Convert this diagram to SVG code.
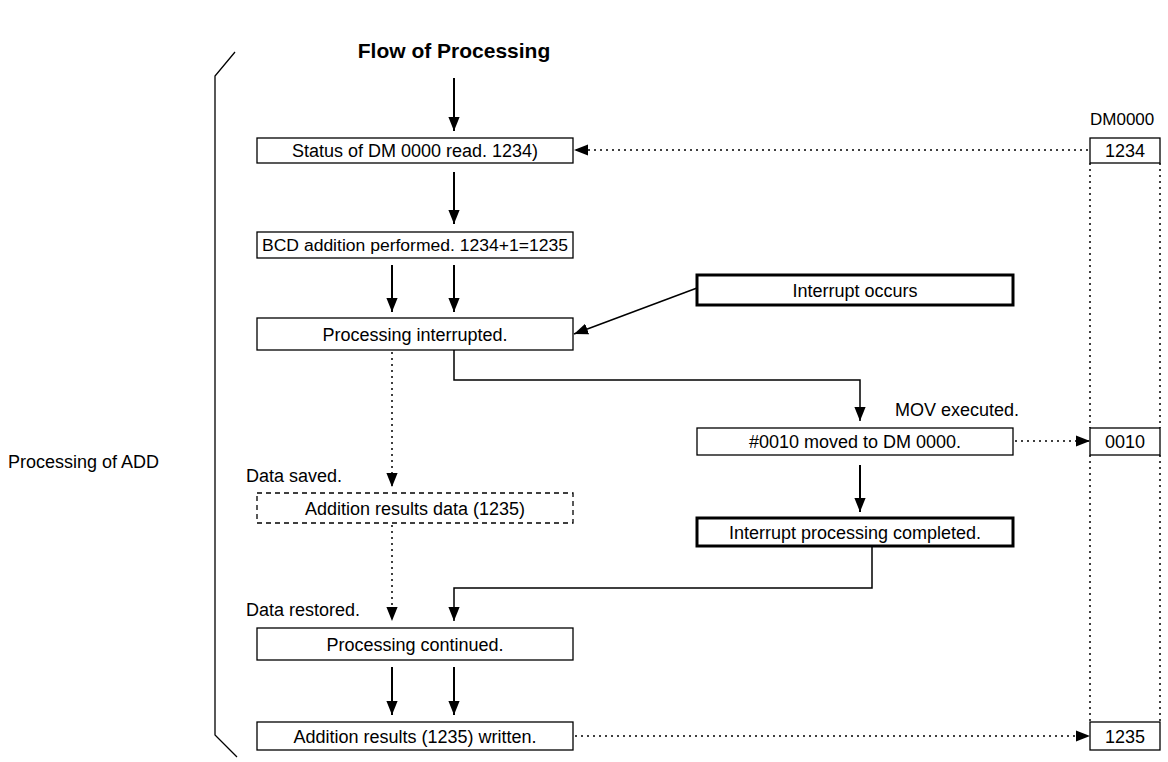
<svg xmlns="http://www.w3.org/2000/svg" width="1168" height="762" viewBox="0 0 1168 762">
<defs>
<marker id="ahb" viewBox="0 0 10 10" refX="10" refY="5" markerWidth="14" markerHeight="14" markerUnits="userSpaceOnUse" orient="auto"><path d="M0,1 L10,5 L0,9 z" fill="#000"/></marker>
</defs>
<style>
text{font-family:"Liberation Sans",Arial,sans-serif;font-size:18px;fill:#000}
.b rect{fill:#fff;stroke:#000;stroke-width:1.3}
.t rect{fill:#fff;stroke:#000;stroke-width:3}
.d rect{fill:#fff;stroke:#000;stroke-width:1.3;stroke-dasharray:5,4}
.s{stroke:#000;stroke-width:2;fill:none}
.p{stroke:#000;stroke-width:1.5;fill:none;stroke-dasharray:2,4}
</style>
<rect width="1168" height="762" fill="#fff"/>
<text x="454" y="58" text-anchor="middle" style="font-weight:bold;font-size:21px">Flow of Processing</text>
<text x="8" y="468">Processing of ADD</text>
<path d="M235,52 L215,76 L215,735 L237,757" class="s" style="stroke-width:1.3"/>
<text x="1090" y="125" style="font-size:17px">DM0000</text>

<g id="connectors">
<line x1="454" y1="78" x2="454" y2="131" class="s" marker-end="url(#ahb)"/>
<line x1="454" y1="172" x2="454" y2="224" class="s" marker-end="url(#ahb)"/>
<line x1="392" y1="265" x2="392" y2="312" class="s" marker-end="url(#ahb)"/>
<line x1="454" y1="265" x2="454" y2="312" class="s" marker-end="url(#ahb)"/>
<line x1="697" y1="288" x2="574" y2="334" class="s" style="stroke-width:1.5" marker-end="url(#ahb)"/>
<path d="M454,350 L454,380 L860,380 L860,421" class="s" style="stroke-width:1.5" marker-end="url(#ahb)"/>
<line x1="860" y1="465" x2="860" y2="512" class="s" marker-end="url(#ahb)"/>
<path d="M872,546 L872,588 L454,588 L454,621" class="s" style="stroke-width:1.5" marker-end="url(#ahb)"/>
<line x1="392" y1="352" x2="392" y2="487" class="p" marker-end="url(#ahb)"/>
<line x1="392" y1="525" x2="392" y2="621" class="p" marker-end="url(#ahb)"/>
<line x1="392" y1="667" x2="392" y2="715" class="s" marker-end="url(#ahb)"/>
<line x1="454" y1="667" x2="454" y2="715" class="s" marker-end="url(#ahb)"/>
<line x1="1088" y1="150" x2="574" y2="150" class="p" marker-end="url(#ahb)"/>
<line x1="1015" y1="441" x2="1090" y2="441" class="p" marker-end="url(#ahb)"/>
<line x1="575" y1="736" x2="1090" y2="736" class="p" marker-end="url(#ahb)"/>
<line x1="1090" y1="163" x2="1090" y2="428" class="p"/>
<line x1="1160" y1="163" x2="1160" y2="428" class="p"/>
<line x1="1090" y1="455" x2="1090" y2="722" class="p"/>
<line x1="1160" y1="455" x2="1160" y2="722" class="p"/>
</g>

<g id="n1" class="b"><rect x="257" y="138" width="316" height="25"/><text x="415" y="157" text-anchor="middle">Status of DM 0000 read. 1234)</text></g>
<g id="n2" class="b"><rect x="257" y="232" width="316" height="26"/><text x="415" y="251" text-anchor="middle" textLength="306" lengthAdjust="spacingAndGlyphs" style="font-size:16px">BCD addition performed. 1234+1=1235</text></g>
<g id="n3" class="b"><rect x="257" y="318" width="316" height="32"/><text x="415" y="341" text-anchor="middle">Processing interrupted.</text></g>
<g id="n4" class="t"><rect x="697" y="275" width="316" height="30"/><text x="855" y="297" text-anchor="middle">Interrupt occurs</text></g>
<text x="895" y="416">MOV executed.</text>
<g id="n5" class="b"><rect x="697" y="428" width="316" height="27"/><text x="855" y="448" text-anchor="middle">#0010 moved to DM 0000.</text></g>
<g id="n6" class="t"><rect x="697" y="518" width="316" height="28"/><text x="855" y="539" text-anchor="middle">Interrupt processing completed.</text></g>
<text x="246" y="482">Data saved.</text>
<g id="n7" class="d"><rect x="257" y="493" width="316" height="30"/><text x="415" y="515" text-anchor="middle">Addition results data (1235)</text></g>
<text x="246" y="616">Data restored.</text>
<g id="n8" class="b"><rect x="257" y="628" width="316" height="32"/><text x="415" y="651" text-anchor="middle">Processing continued.</text></g>
<g id="n9" class="b"><rect x="257" y="722" width="316" height="28"/><text x="415" y="743" text-anchor="middle">Addition results (1235) written.</text></g>
<g id="dm1" class="b"><rect x="1090" y="138" width="70" height="25"/><text x="1125" y="157" text-anchor="middle">1234</text></g>
<g id="dm2" class="b"><rect x="1090" y="428" width="70" height="27"/><text x="1125" y="448" text-anchor="middle">0010</text></g>
<g id="dm3" class="b"><rect x="1090" y="722" width="70" height="28"/><text x="1125" y="743" text-anchor="middle">1235</text></g>
</svg>
